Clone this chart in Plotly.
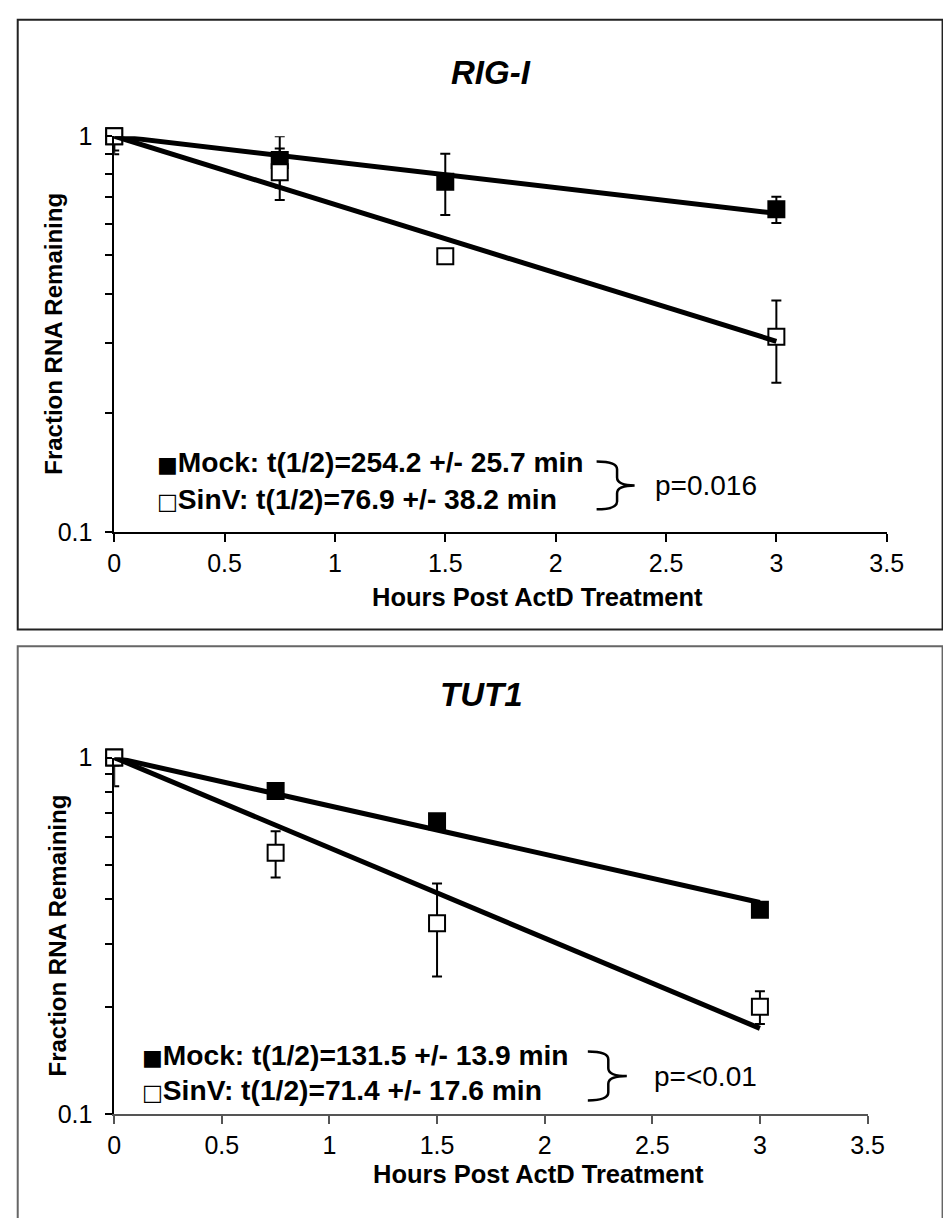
import plotly.graph_objects as go

W, H = 943, 1218

# ---------------- data ----------------
hours = [0, 0.75, 1.5, 3]
fit_hours = [0, 3]

rig_mock = [1.0, 0.87, 0.767, 0.653]
rig_mock_err = [0.08, 0.13, 0.135, 0.05]
rig_sinv = [1.0, 0.81, 0.497, 0.311]
rig_sinv_err = [0.10, 0.12, 0.012, 0.073]
rig_mock_fit = [1.0, 0.638]
rig_sinv_fit = [1.0, 0.303]

tut_mock = [1.0, 0.806, 0.663, 0.374]
tut_mock_err = [0.05, 0.03, 0.02, 0.01]
tut_sinv = [1.0, 0.541, 0.343, 0.200]
tut_sinv_err = [0.17, 0.08, 0.10, 0.021]
tut_mock_fit = [1.0, 0.392]
tut_sinv_fit = [1.0, 0.174]

x_tick_vals = [0, 0.5, 1, 1.5, 2, 2.5, 3, 3.5]
x_tick_text = ["0", "0.5", "1", "1.5", "2", "2.5", "3", "3.5"]
y_tick_vals = [0.1, 0.2, 0.3, 0.4, 0.5, 0.6, 0.7, 0.8, 0.9, 1]
y_tick_text = ["0.1", "", "", "", "", "", "", "", "", "1"]

panels = [
    dict(title="RIG-I", mock=rig_mock, mock_err=rig_mock_err, sinv=rig_sinv,
         sinv_err=rig_sinv_err, mock_fit=rig_mock_fit, sinv_fit=rig_sinv_fit,
         mock_lbl="Mock: t(1/2)=254.2 +/- 25.7 min",
         sinv_lbl="SinV: t(1/2)=76.9 +/- 38.2 min", p="p=0.016"),
    dict(title="TUT1", mock=tut_mock, mock_err=tut_mock_err, sinv=tut_sinv,
         sinv_err=tut_sinv_err, mock_fit=tut_mock_fit, sinv_fit=tut_sinv_fit,
         mock_lbl="Mock: t(1/2)=131.5 +/- 13.9 min",
         sinv_lbl="SinV: t(1/2)=71.4 +/- 17.6 min", p="p=<0.01"),
]

# ---------------- layout geometry (pixels) ----------------
geo = [
    dict(x0=110, x1=902.7, y0=125, y1=530, title_y=60, xt_y=597, xt_x=544,
         yt_x=48, leg_x=152, leg_y=[459, 496], br=(605, 626, 644, 458, 507),
         p_x=663, box=(11, 6, 960, 630), box_col="#222222", xline="black"),
    dict(x0=110, x1=883, y0=761, y1=1126, title_y=696, xt_y=1187, xt_x=545,
         yt_x=52, leg_x=136, leg_y=[1066, 1101], br=(596, 617, 636, 1062, 1112),
         p_x=662, box=(11, 647, 960, 1240), box_col="#666666", xline="#555555"),
]

def px(x):
    return x / W

def py(y):
    return 1 - y / H

FONT = "Liberation Sans, Arial, sans-serif"

fig = go.Figure()
shapes = []
annotations = []

for i, (pn, g) in enumerate(zip(panels, geo)):
    xa = "x" if i == 0 else "x2"
    ya = "y" if i == 0 else "y2"

    def up(vals, errs):
        return [min(e, 1.0 - v) for v, e in zip(vals, errs)]

    fig.add_trace(go.Scatter(
        x=hours, y=pn["mock"], mode="markers", xaxis=xa, yaxis=ya,
        marker=dict(symbol="square", size=16, color="black",
                    line=dict(color="black", width=2)),
        error_y=dict(type="data", array=up(pn["mock"], pn["mock_err"]),
                     arrayminus=pn["mock_err"], color="black", thickness=2, width=5),
        cliponaxis=False, showlegend=False))
    fig.add_trace(go.Scatter(
        x=hours, y=pn["sinv"], mode="markers", xaxis=xa, yaxis=ya,
        marker=dict(symbol="square", size=16, color="white",
                    line=dict(color="black", width=2)),
        error_y=dict(type="data", array=up(pn["sinv"], pn["sinv_err"]),
                     arrayminus=pn["sinv_err"], color="black", thickness=2, width=5),
        cliponaxis=False, showlegend=False))
    for fit in (pn["mock_fit"], pn["sinv_fit"]):
        fig.add_trace(go.Scatter(
            x=fit_hours, y=fit, mode="lines", xaxis=xa, yaxis=ya,
            line=dict(color="black", width=5), cliponaxis=False,
            showlegend=False, hoverinfo="skip"))

    xdom = [px(g["x0"]), px(g["x1"])]
    ydom = [py(g["y1"]), py(g["y0"])]
    axfont = dict(family=FONT, size=25, color="black")
    fig.update_layout(**{
        ("xaxis" if i == 0 else "xaxis2"): dict(
            domain=xdom, range=[0, 3.5], tickvals=x_tick_vals, ticktext=x_tick_text,
            ticks="outside", ticklen=8, tickwidth=1.5, tickcolor=g["xline"],
            showline=True, linecolor=g["xline"], linewidth=1.8, showgrid=False,
            zeroline=False, tickfont=axfont, anchor=ya, fixedrange=True),
        ("yaxis" if i == 0 else "yaxis2"): dict(
            domain=ydom, type="log", range=[-1, 0], tickvals=y_tick_vals,
            ticktext=y_tick_text, ticks="outside", ticklen=7, tickwidth=1.5,
            tickcolor="black", showline=True, linecolor="black", linewidth=1.5,
            showgrid=False, zeroline=False, tickfont=axfont, anchor=xa,
            ticklabelstandoff=8, fixedrange=True),
    })

    # panel box
    bx0, by0, bx1, by1 = g["box"]
    shapes.append(dict(type="rect", xref="paper", yref="paper",
                       x0=px(bx0), x1=px(bx1), y0=py(by1), y1=py(by0),
                       line=dict(color=g["box_col"], width=2), layer="below"))

    # title
    annotations.append(dict(text="<b><i>%s</i></b>" % pn["title"], xref="paper",
                            yref="paper", x=px((g["x0"] + g["x1"]) / 2 - 10),
                            y=py(g["title_y"]), showarrow=False,
                            font=dict(family=FONT, size=33, color="black"),
                            xanchor="center", yanchor="middle"))
    # x axis title
    annotations.append(dict(text="<b>Hours Post ActD Treatment</b>", xref="paper",
                            yref="paper", x=px(g["xt_x"]),
                            y=py(g["xt_y"]), showarrow=False,
                            font=dict(family=FONT, size=25.5, color="black"),
                            xanchor="center", yanchor="middle"))
    # y axis title
    annotations.append(dict(text="<b>Fraction RNA Remaining</b>", xref="paper",
                            yref="paper", x=px(g["yt_x"]),
                            y=py((g["y0"] + g["y1"]) / 2), showarrow=False,
                            textangle=-90,
                            font=dict(family=FONT, size=24, color="black"),
                            xanchor="center", yanchor="middle"))
    # legend text
    for sym, lbl, yy in (("\u25A0", pn["mock_lbl"], g["leg_y"][0]),
                         ("\u25A1", pn["sinv_lbl"], g["leg_y"][1])):
        annotations.append(dict(
            text="<span style='font-family:DejaVu Sans;font-size:22px'>%s</span><b>%s</b>" % (sym, lbl),
            xref="paper", yref="paper", x=px(g["leg_x"]), y=py(yy),
            showarrow=False, font=dict(family=FONT, size=28.2, color="black"),
            xanchor="left", yanchor="middle"))
    # bracket
    a, b, c, t, bt = g["br"]
    m = (t + bt) / 2
    r = 8
    path = ("M {},{} Q {},{} {},{} L {},{} Q {},{} {},{} Q {},{} {},{} L {},{} Q {},{} {},{}"
            .format(px(a), py(t), px(b), py(t), px(b), py(t + r),
                    px(b), py(m - r), px(b), py(m), px(c), py(m),
                    px(b), py(m), px(b), py(m + r),
                    px(b), py(bt - r), px(b), py(bt), px(a), py(bt)))
    shapes.append(dict(type="path", xref="paper", yref="paper", path=path,
                       line=dict(color="black", width=2.5)))
    annotations.append(dict(text=pn["p"], xref="paper", yref="paper",
                            x=px(g["p_x"]), y=py((t + bt) / 2), showarrow=False,
                            font=dict(family=FONT, size=28, color="black"),
                            xanchor="left", yanchor="middle"))

fig.update_layout(width=W, height=H, margin=dict(l=0, r=0, t=0, b=0),
                  autosize=False, paper_bgcolor="white", plot_bgcolor="white",
                  shapes=shapes, annotations=annotations, showlegend=False)

fig.write_html("out.html")
